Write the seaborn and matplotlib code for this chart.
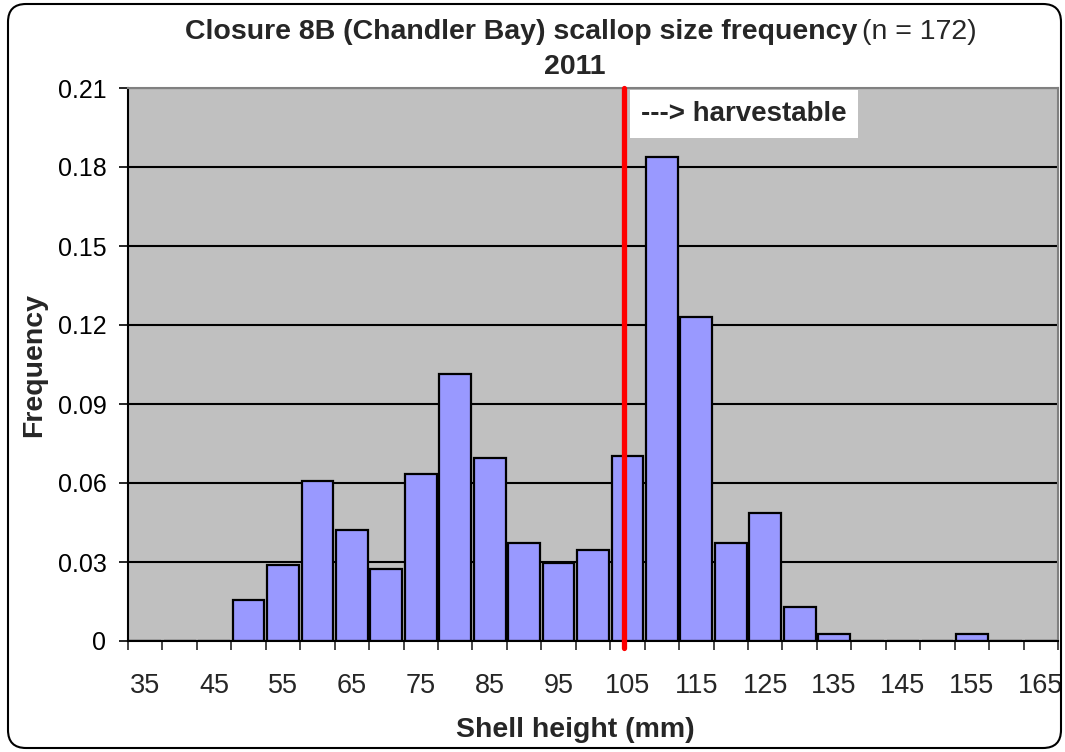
import matplotlib.pyplot as plt
import matplotlib.patches as patches
import matplotlib.transforms as mtransforms
import numpy as np
import pandas as pd
import seaborn as sns

# shell height classes (mm) and relative frequency per class
shell_height = [35, 40, 45, 50, 55, 60, 65, 70, 75, 80, 85, 90, 95, 100,
                105, 110, 115, 120, 125, 130, 135, 140, 145, 150, 155, 160, 165]
frequency = [0, 0, 0, 0.0156, 0.0288, 0.0608, 0.042, 0.0273, 0.0636, 0.1013,
             0.0694, 0.0374, 0.0297, 0.0345, 0.0702, 0.1838, 0.1229, 0.0373,
             0.0486, 0.013, 0.0027, 0, 0, 0, 0.0027, 0, 0]
y_ticks = [0, 0.03, 0.06, 0.09, 0.12, 0.15, 0.18, 0.21]
y_ticklabels = ["0", "0.03", "0.06", "0.09", "0.12", "0.15", "0.18", "0.21"]
harvest_cut = 104.5  # mm

sns.set_style("white")
plt.rcParams['font.family'] = ['Liberation Sans', 'DejaVu Sans']

df = pd.DataFrame({"size": [str(s) for s in shell_height], "freq": frequency})

W, H = 1065, 752
fig = plt.figure(figsize=(W / 100, H / 100), dpi=100)
ax = fig.add_axes([128 / W, 111 / H, 930 / W, 553 / H])
ax.set_facecolor("#c0c0c0")
ax.set_axisbelow(True)

sns.barplot(data=df, x="size", y="freq", order=list(df["size"]), color="#9999ff",
            saturation=1, edgecolor="black", linewidth=1.6, width=0.92, ax=ax)

n = len(shell_height)
ax.set_xlim(-0.5, n - 0.5)
ax.set_ylim(0, 0.21)

# y axis
ax.set_yticks(y_ticks)
ax.set_yticklabels(y_ticklabels)
ax.yaxis.grid(True, color="black", linewidth=1.5)
ax.tick_params(axis="y", direction="out", length=6.5, width=1.2, pad=9,
               labelsize=18, left=True, colors="black")

# x axis: tick marks at class edges, labels at every other class
edges = np.arange(n + 1) - 0.5
label_pos = np.arange(0, n, 2)
ax.set_xticks(edges)
ax.set_xticklabels([])
ax.set_xticks(label_pos, minor=True)
ax.set_xticklabels([str(shell_height[i]) for i in label_pos], minor=True)
ax.tick_params(axis="x", which="major", direction="out", length=6.5, width=1.2,
               bottom=True)
ax.tick_params(axis="x", which="minor", length=0, pad=23, labelsize=19.5)

for side in ["left", "bottom"]:
    ax.spines[side].set_color("black")
    ax.spines[side].set_linewidth(1.5)
for side in ["top", "right"]:
    ax.spines[side].set_color("#808080")
    ax.spines[side].set_linewidth(1.5)

ax.set_xlabel("")
ax.set_ylabel("")

# harvestable cut-off line
cut_pos = (harvest_cut - shell_height[0]) / (shell_height[1] - shell_height[0])
ax.axvline(cut_pos, ymin=-0.012, ymax=1.0, color="#ff0000", linewidth=3.8,
           clip_on=False, zorder=5)
ax.text(cut_pos + 0.5, 0.2002, "---> harvestable", fontsize=20, fontweight="bold",
        ha="left", va="center", zorder=6,
        bbox=dict(facecolor="white", edgecolor="none", boxstyle="square,pad=0.4"))

# titles and axis labels
fig.text(857 / W, 1 - 32 / H, "Closure 8B (Chandler Bay) scallop size frequency",
         fontsize=20.5, fontweight="bold", ha="right", va="center")
fig.text(862 / W, 1 - 32 / H, "(n = 172)", fontsize=20.5, ha="left", va="center")
fig.text(575 / W, 1 - 67 / H, "2011", fontsize=20.5, fontweight="bold",
         ha="center", va="center")
fig.text(34 / W, 1 - 365 / H, "Frequency", fontsize=20.5, fontweight="bold",
         rotation=90, ha="center", va="center")
fig.text(575 / W, 1 - 730 / H, "Shell height (mm)", fontsize=20.5,
         fontweight="bold", ha="center", va="center")

# rounded chart frame
frame = patches.FancyBboxPatch((8, 4), 1053, 744,
                               boxstyle="round,pad=0,rounding_size=18",
                               transform=mtransforms.IdentityTransform(),
                               fill=False, edgecolor="black", linewidth=1.5)
fig.patches.append(frame)

fig.savefig("out.png", dpi=100)
